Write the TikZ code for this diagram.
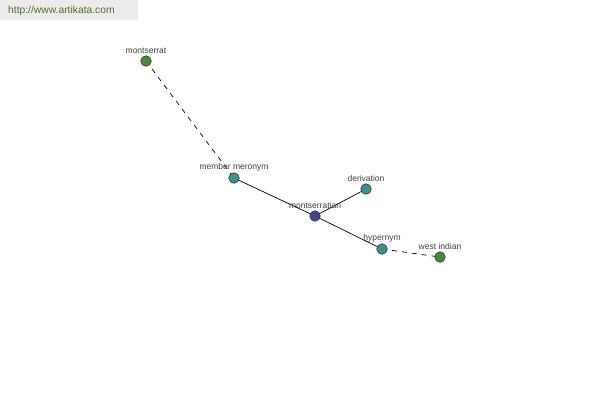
\documentclass[tikz,border=0pt]{standalone}
\usepackage{fontspec}
\setmainfont{Liberation Sans}
\begin{document}
\begin{tikzpicture}[x=1pt,y=-1pt,
  dot/.style={circle,draw=black!80,line width=0.6pt,minimum size=10.5pt,inner sep=0pt},
  gnode/.style={dot,fill={rgb,255:red,75;green,135;blue,60}},
  tnode/.style={dot,fill={rgb,255:red,60;green,145;blue,140}},
  bnode/.style={dot,fill={rgb,255:red,65;green,70;blue,140}},
  lbl/.style={font=\fontsize{8.5}{9}\selectfont,text=black!75,inner sep=0pt,anchor=south},
  edge/.style={draw=black,line width=0.7pt},
  dedge/.style={edge,dash pattern=on 5pt off 5pt}]
\useasboundingbox (0,0) rectangle (600,400);
\fill[white] (0,0) rectangle (600,400);
\fill[black!8] (0,0) rectangle (138,20);
\node[anchor=west,inner sep=0pt,text={rgb,255:red,80;green,110;blue,40},font=\fontsize{10.3}{12}\selectfont] (url) at (8,11) {http://www.artikata.com};
\coordinate (pm) at (146,61);
\coordinate (pmm) at (234,178);
\coordinate (pd) at (366,189);
\coordinate (pc) at (315,216);
\coordinate (ph) at (382,249);
\coordinate (pw) at (440,257);
\path[dedge] (pm) -- (pmm);
\path[edge] (pmm) -- (pc);
\path[edge] (pc) -- (pd);
\path[edge] (pc) -- (ph);
\path[dedge] (ph) -- (pw);
\node[gnode] (montserrat) at (pm) {};
\node[tnode] (meronym) at (pmm) {};
\node[tnode] (derivation) at (pd) {};
\node[bnode] (montserratian) at (pc) {};
\node[tnode] (hypernym) at (ph) {};
\node[gnode] (westindian) at (pw) {};
\node[lbl] (lm) at ([yshift=7pt]pm) {montserrat};
\node[lbl] (lmm) at ([yshift=7pt]pmm) {member meronym};
\node[lbl] (ld) at ([yshift=7pt]pd) {derivation};
\node[lbl] (lc) at ([yshift=7pt]pc) {montserratian};
\node[lbl] (lh) at ([yshift=7pt]ph) {hypernym};
\node[lbl] (lw) at ([yshift=7pt]pw) {west indian};
\end{tikzpicture}
\end{document}
